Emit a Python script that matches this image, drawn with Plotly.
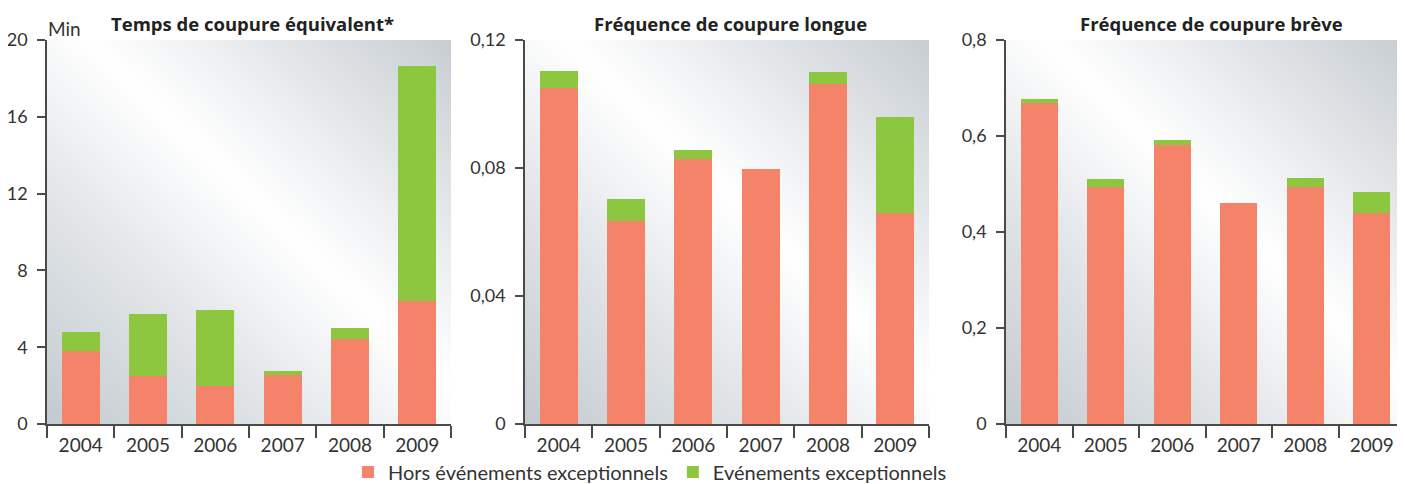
import base64

import plotly.graph_objects as go

# Data
years = ["2004", "2005", "2006", "2007", "2008", "2009"]

# Temps de coupure équivalent (min)
temps_hors = [3.78, 2.48, 1.96, 2.55, 4.41, 6.42]
temps_exc = [0.99, 3.26, 3.99, 0.23, 0.60, 12.23]

# Fréquence de coupure longue
longue_hors = [0.1051, 0.0633, 0.0828, 0.0797, 0.1064, 0.0659]
longue_exc = [0.0052, 0.0071, 0.0029, 0.0, 0.0036, 0.0301]

# Fréquence de coupure brève
breve_hors = [0.668, 0.493, 0.582, 0.461, 0.493, 0.440]
breve_exc = [0.009, 0.018, 0.010, 0.0, 0.020, 0.044]

titles = ["Temps de coupure équivalent*", "Fréquence de coupure longue", "Fréquence de coupure brève"]
series_names = ["Hors événements exceptionnels", "Evénements exceptionnels"]

RED = "#f4836a"
GREEN = "#8dc63f"
AXIS = "#4a4a4a"
TEXT = "#333333"
FONT = "Lato"
TITLE_FONT = "Open Sans"

OFF = 8  # page body margin; positions below are page pixels
W, H = 1405 - OFF, 484 - OFF


def px_x(p):
    return (p - OFF) / W


def px_y(p):
    return 1 - (p - OFF) / H


# plot-area positions in page pixels (left, right), shared top/bottom
panels_px = [(47, 451), (525, 929), (1006, 1405)]
top_px, bottom_px = 40, 424
y_dom = [px_y(bottom_px), px_y(top_px)]

panel_data = [
    (temps_hors, temps_exc, [0, 20], 4),
    (longue_hors, longue_exc, [0, 0.12], 0.04),
    (breve_hors, breve_exc, [0, 0.8], 0.2),
]

# gradient background for plot areas
svg = (
    "<svg xmlns='http://www.w3.org/2000/svg' width='400' height='380' preserveAspectRatio='none'>"
    "<defs><linearGradient id='g' x1='0' y1='1' x2='1' y2='0'>"
    "<stop offset='0' stop-color='#c3cacf'/>"
    "<stop offset='0.28' stop-color='#dfe3e6'/>"
    "<stop offset='0.55' stop-color='#ffffff'/>"
    "<stop offset='0.78' stop-color='#e3e6e9'/>"
    "<stop offset='1' stop-color='#c7cdd1'/>"
    "</linearGradient></defs>"
    "<rect width='400' height='380' fill='url(#g)'/></svg>"
)
bg_src = "data:image/svg+xml;base64," + base64.b64encode(svg.encode()).decode()

fig = go.Figure()
layout = dict(
    width=W,
    height=H,
    margin=dict(l=0, r=0, t=0, b=0, pad=0, autoexpand=False),
    paper_bgcolor="white",
    plot_bgcolor="rgba(0,0,0,0)",
    barmode="stack",
    bargap=0.44,
    separators=", ",
    font=dict(family=FONT, size=18, color=TEXT),
    showlegend=True,
    legend=dict(
        orientation="h",
        x=px_x(650),
        xanchor="center",
        y=px_y(472),
        yanchor="middle",
        font=dict(family=FONT, size=20, color=TEXT),
        bgcolor="rgba(0,0,0,0)",
        traceorder="normal",
    ),
)

images = []
annotations = []
for i, ((hors, exc, yrange, dtick), (x0, x1)) in enumerate(zip(panel_data, panels_px)):
    n = "" if i == 0 else str(i + 1)
    xa, ya = "x" + n, "y" + n
    fig.add_trace(go.Bar(
        x=years, y=hors, name=series_names[0], marker=dict(color=RED, line=dict(width=0)),
        xaxis=xa, yaxis=ya, legendgroup="hors", showlegend=(i == 0),
    ))
    fig.add_trace(go.Bar(
        x=years, y=exc, name=series_names[1], marker=dict(color=GREEN, line=dict(width=0)),
        xaxis=xa, yaxis=ya, legendgroup="exc", showlegend=(i == 0),
    ))
    dom = [px_x(x0), min(px_x(x1), 1.0)]
    layout["xaxis" + n] = dict(
        domain=dom, anchor=ya, type="category",
        showline=True, linecolor=AXIS, linewidth=1.5,
        ticks="outside", tickson="boundaries", ticklen=12, tickwidth=1.5, tickcolor=AXIS,
        ticklabelstandoff=3,
        showgrid=False, zeroline=False, fixedrange=True,
        tickfont=dict(size=19, color=TEXT),
    )
    layout["yaxis" + n] = dict(
        domain=y_dom, anchor=xa, range=yrange, dtick=dtick, tick0=0,
        showline=True, linecolor=AXIS, linewidth=1.5,
        ticks="outside", ticklen=8, tickwidth=1.5, tickcolor=AXIS,
        ticklabelstandoff=6,
        showgrid=False, zeroline=False, fixedrange=True,
        tickfont=dict(size=18, color=TEXT),
    )
    images.append(dict(
        source=bg_src, xref="paper", yref="paper",
        x=dom[0], y=y_dom[1], sizex=dom[1] - dom[0], sizey=y_dom[1] - y_dom[0],
        xanchor="left", yanchor="top", sizing="stretch", layer="below",
    ))

title_x = [252, 730, 1211]
for t, tx in zip(titles, title_x):
    annotations.append(dict(
        text="<b>" + t + "</b>", x=px_x(tx), y=px_y(24), xref="paper", yref="paper",
        xanchor="center", yanchor="middle", showarrow=False,
        font=dict(family=TITLE_FONT, size=18.5, color="#222222"),
    ))
annotations.append(dict(
    text="Min", x=px_x(46), y=px_y(29), xref="paper", yref="paper",
    xanchor="left", yanchor="middle", showarrow=False,
    font=dict(family=FONT, size=19, color=TEXT),
))

layout["images"] = images
layout["annotations"] = annotations
fig.update_layout(**layout)

fig.write_html("out.html")
